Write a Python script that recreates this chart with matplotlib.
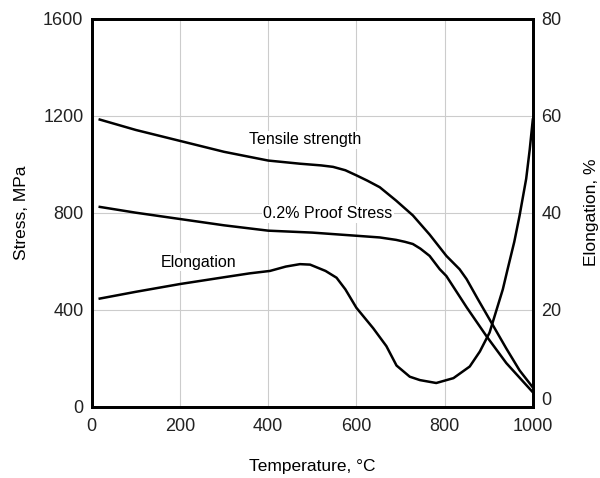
import matplotlib.pyplot as plt
from matplotlib.transforms import ScaledTranslation

plt.rcParams['font.family'] = ['Liberation Sans', 'DejaVu Sans']

# temperature (C) vs stress (MPa)
tensile_t = [18, 100, 200, 300, 400, 472, 520, 547, 575, 600, 625, 653, 690, 728, 766, 804, 834, 850, 875, 902, 940, 970, 1000]
tensile_s = [1184, 1141, 1096, 1051, 1015, 1002, 995, 989, 975, 954, 932, 905, 850, 789, 710, 622, 567, 526, 445, 360, 240, 150, 80]

proof_t = [18, 100, 200, 300, 400, 500, 600, 653, 690, 710, 728, 745, 766, 789, 804, 850, 895, 940, 1000]
proof_s = [824, 800, 774, 748, 726, 718, 705, 698, 688, 680, 671, 652, 622, 567, 539, 410, 291, 180, 60]

# temperature (C) vs elongation (%)
elong_t = [18, 100, 200, 300, 358, 404, 440, 472, 495, 530, 555, 575, 600, 638, 668, 691, 721, 744, 781, 820, 857, 880, 902, 932, 943, 958, 970, 985, 993, 1000]
elong_v = [22.3, 23.7, 25.3, 26.7, 27.5, 28.0, 28.9, 29.4, 29.3, 28.0, 26.6, 24.2, 20.4, 16.2, 12.5, 8.5, 6.2, 5.5, 4.9, 5.9, 8.3, 11.4, 15.3, 24.2, 28.4, 34.0, 39.4, 47.0, 53.0, 59.2]

fig = plt.figure(figsize=(6, 4.78), dpi=100)
ax = fig.add_axes([0.153, 0.149, 0.735, 0.812])
ax2 = ax.twinx()

ax.plot(tensile_t, tensile_s, color='black', lw=1.8)
ax.plot(proof_t, proof_s, color='black', lw=1.8)
ax2.plot(elong_t, elong_v, color='black', lw=1.8)

ax.set_xlim(0, 1000)
ax.set_ylim(0, 1600)
ax2.set_ylim(0, 80)
ax.set_xticks([0, 200, 400, 600, 800, 1000])
ax.set_yticks([0, 400, 800, 1200, 1600])
ax2.set_yticks([0, 20, 40, 60, 80])
ax.grid(True, color='#cccccc', lw=0.8)

for a in (ax, ax2):
    for s in a.spines.values():
        s.set_linewidth(2)
    a.tick_params(length=0, labelsize=13, pad=6, colors='#222222')
ax.tick_params(axis='x', pad=8)

# lift the right-hand "0" a little so it clears the 1000 label
fig.canvas.draw()
lbl = ax2.get_yticklabels()[0]
lbl.set_transform(lbl.get_transform() + ScaledTranslation(0, 6 / 72, fig.dpi_scale_trans))

ax.set_xlabel('Temperature, °C', fontsize=12.5, labelpad=17)
ax.set_ylabel('Stress, MPa', fontsize=12.5, labelpad=10)
ax2.set_ylabel('Elongation, %', fontsize=12.5, labelpad=16)

box = dict(facecolor='white', edgecolor='none', pad=1)
ax.text(483, 1101, 'Tensile strength', fontsize=11.5, ha='center', va='center', bbox=box)
ax.text(535, 795, '0.2% Proof Stress', fontsize=11.5, ha='center', va='center', bbox=box)
ax.text(243, 596, 'Elongation', fontsize=11.5, ha='center', va='center', bbox=box)

fig.savefig('out.png', dpi=100)
